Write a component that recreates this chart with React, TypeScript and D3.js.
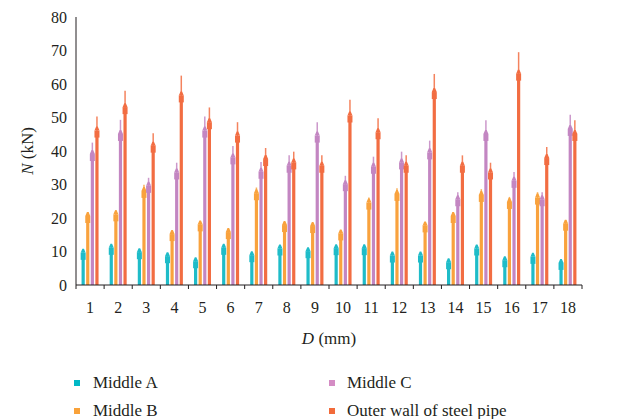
import React from "react";
import * as d3 from "d3";

const categories = ["1","2","3","4","5","6","7","8","9","10","11","12","13","14","15","16","17","18"];
const seriesNames = ["Middle A", "Middle B", "Middle C", "Outer wall of steel pipe"];
const seriesColors = ["#1fbcc8", "#f9a23d", "#c386c2", "#f26d42"];
const legendColors = ["#00b8c6", "#f9a23a", "#d48cc4", "#f26b3a"];

const middleA = [9, 10.5, 9.2, 8, 6.5, 10.5, 8.3, 10.3, 9.5, 10.4, 10.4, 8.2, 8.2, 6.2, 10.3, 6.8, 7.8, 6];
const middleB = [20, 20.5, 27.5, 14.6, 17.5, 15.2, 26.8, 17.3, 17, 14.8, 24, 26.6, 17.2, 20, 26.3, 24.2, 25.5, 17.7];
const middleC = [38.5, 44.5, 29, 33, 45.5, 37.5, 33.2, 35, 44, 29.5, 34.7, 36, 39, 25, 44.5, 30.5, 25, 46];
const outerWall = [45.5, 52.5, 41, 56, 48, 44, 37, 36, 35, 50, 45, 35, 57, 35, 33, 62.5, 37.3, 44.5];

const errA = [0.8, 1, 0.8, 0.7, 0.6, 1, 0.7, 0.9, 0.8, 0.9, 0.9, 0.7, 0.7, 0.6, 0.9, 0.6, 0.7, 0.6];
const errB = [1.8, 1.8, 2.4, 1.3, 1.6, 1.4, 2.3, 1.5, 1.5, 1.3, 2.1, 2.3, 1.5, 1.8, 2.3, 2.1, 2.2, 1.6];
const errC = [4, 4.8, 3, 3.5, 4.8, 4, 3.5, 3.7, 4.6, 3.1, 3.6, 3.8, 4.1, 2.7, 4.7, 3.2, 2.7, 4.8];
const errOuter = [4.8, 5.5, 4.3, 6.5, 5, 4.6, 3.9, 3.8, 3.7, 5.3, 4.8, 3.7, 6, 3.7, 3.5, 7, 3.9, 4.7];

const yTicks = [0, 10, 20, 30, 40, 50, 60, 70, 80];

const values = [middleA, middleB, middleC, outerWall];
const errors = [errA, errB, errC, errOuter];

const FONT = "'Liberation Serif', 'Times New Roman', serif";
const TEXT = "#231f20";

export default function App() {
  const W = 626, H = 419;
  const left = 76, right = 582, top = 17, bottom = 285;

  const x = d3.scaleBand<string>().domain(categories).range([left, right]).padding(0);
  const inner = d3.scaleBand<string>().domain(seriesNames).range([-9.2, 9.2]).padding(0);
  const y = d3.scaleLinear().domain([0, 80]).range([bottom, top]);

  const bw = 3.2;
  const mw = 5;

  const marks: React.ReactNode[] = [];
  seriesNames.forEach((s, si) => {
    categories.forEach((c, ci) => {
      const v = values[si][ci];
      const e = errors[si][ci];
      const cx = (x(c) as number) + x.bandwidth() / 2 + (inner(s) as number) + inner.bandwidth() / 2;
      const yv = y(v);
      const ye = y(v + e);
      const col = seriesColors[si];
      marks.push(
        <g key={`${si}-${ci}`}>
          <rect x={cx - bw / 2} y={yv} width={bw} height={bottom - yv} fill={col} />
          <line x1={cx} x2={cx} y1={yv} y2={ye} stroke={col} strokeWidth={1.5} strokeOpacity={0.85} />
          <rect x={cx - mw / 2} y={yv - 2} width={mw} height={7} fill={col} />
          <path d={`M${cx - mw / 2},${yv - 2} L${cx - 0.8},${yv - 6} L${cx + 0.8},${yv - 6} L${cx + mw / 2},${yv - 2} Z`} fill={col} />
        </g>
      );
    });
  });

  const boundaries = d3.range(categories.length + 1).map((i) => left + i * x.bandwidth());

  const legendItems = [
    { name: seriesNames[0], color: legendColors[0], sx: 74, tx: 93, y: 388 },
    { name: seriesNames[1], color: legendColors[1], sx: 74, tx: 93, y: 416 },
    { name: seriesNames[2], color: legendColors[2], sx: 329, tx: 347, y: 388 },
    { name: seriesNames[3], color: legendColors[3], sx: 329, tx: 347, y: 416 },
  ];

  return (
    <svg width={W} height={H} style={{ position: "absolute", left: 0, top: 0, background: "#fff" }}>
      <rect x={0} y={0} width={W} height={H} fill="#fff" />
      {marks}
      <line x1={left} x2={left} y1={top} y2={bottom} stroke="#231f20" strokeWidth={1} />
      {yTicks.map((t) => (
        <text key={t} x={67} y={y(t)} dy="0.35em" textAnchor="end" fontFamily={FONT} fontSize={16} fill={TEXT}>
          {t}
        </text>
      ))}
      <line x1={left} x2={right} y1={bottom} y2={bottom} stroke="#231f20" strokeWidth={1} />
      {boundaries.map((b, i) => (
        <line key={i} x1={b} x2={b} y1={bottom} y2={bottom + 4} stroke="#231f20" strokeWidth={1} />
      ))}
      {categories.map((c) => (
        <text key={c} x={(x(c) as number) + x.bandwidth() / 2} y={313} textAnchor="middle" fontFamily={FONT} fontSize={16} fill={TEXT}>
          {c}
        </text>
      ))}
      <text x={329} y={344} textAnchor="middle" fontFamily={FONT} fontSize={17} fill={TEXT}>
        <tspan fontStyle="italic">D</tspan> (mm)
      </text>
      <text transform={`translate(33,151) rotate(-90)`} textAnchor="middle" fontFamily={FONT} fontSize={17} fill={TEXT}>
        <tspan fontStyle="italic">N</tspan> (kN)
      </text>
      {legendItems.map((l) => (
        <g key={l.name}>
          <rect x={l.sx} y={l.y - 8} width={6} height={6} fill={l.color} />
          <text x={l.tx} y={l.y} fontFamily={FONT} fontSize={17} fill={TEXT}>
            {l.name}
          </text>
        </g>
      ))}
    </svg>
  );
}
